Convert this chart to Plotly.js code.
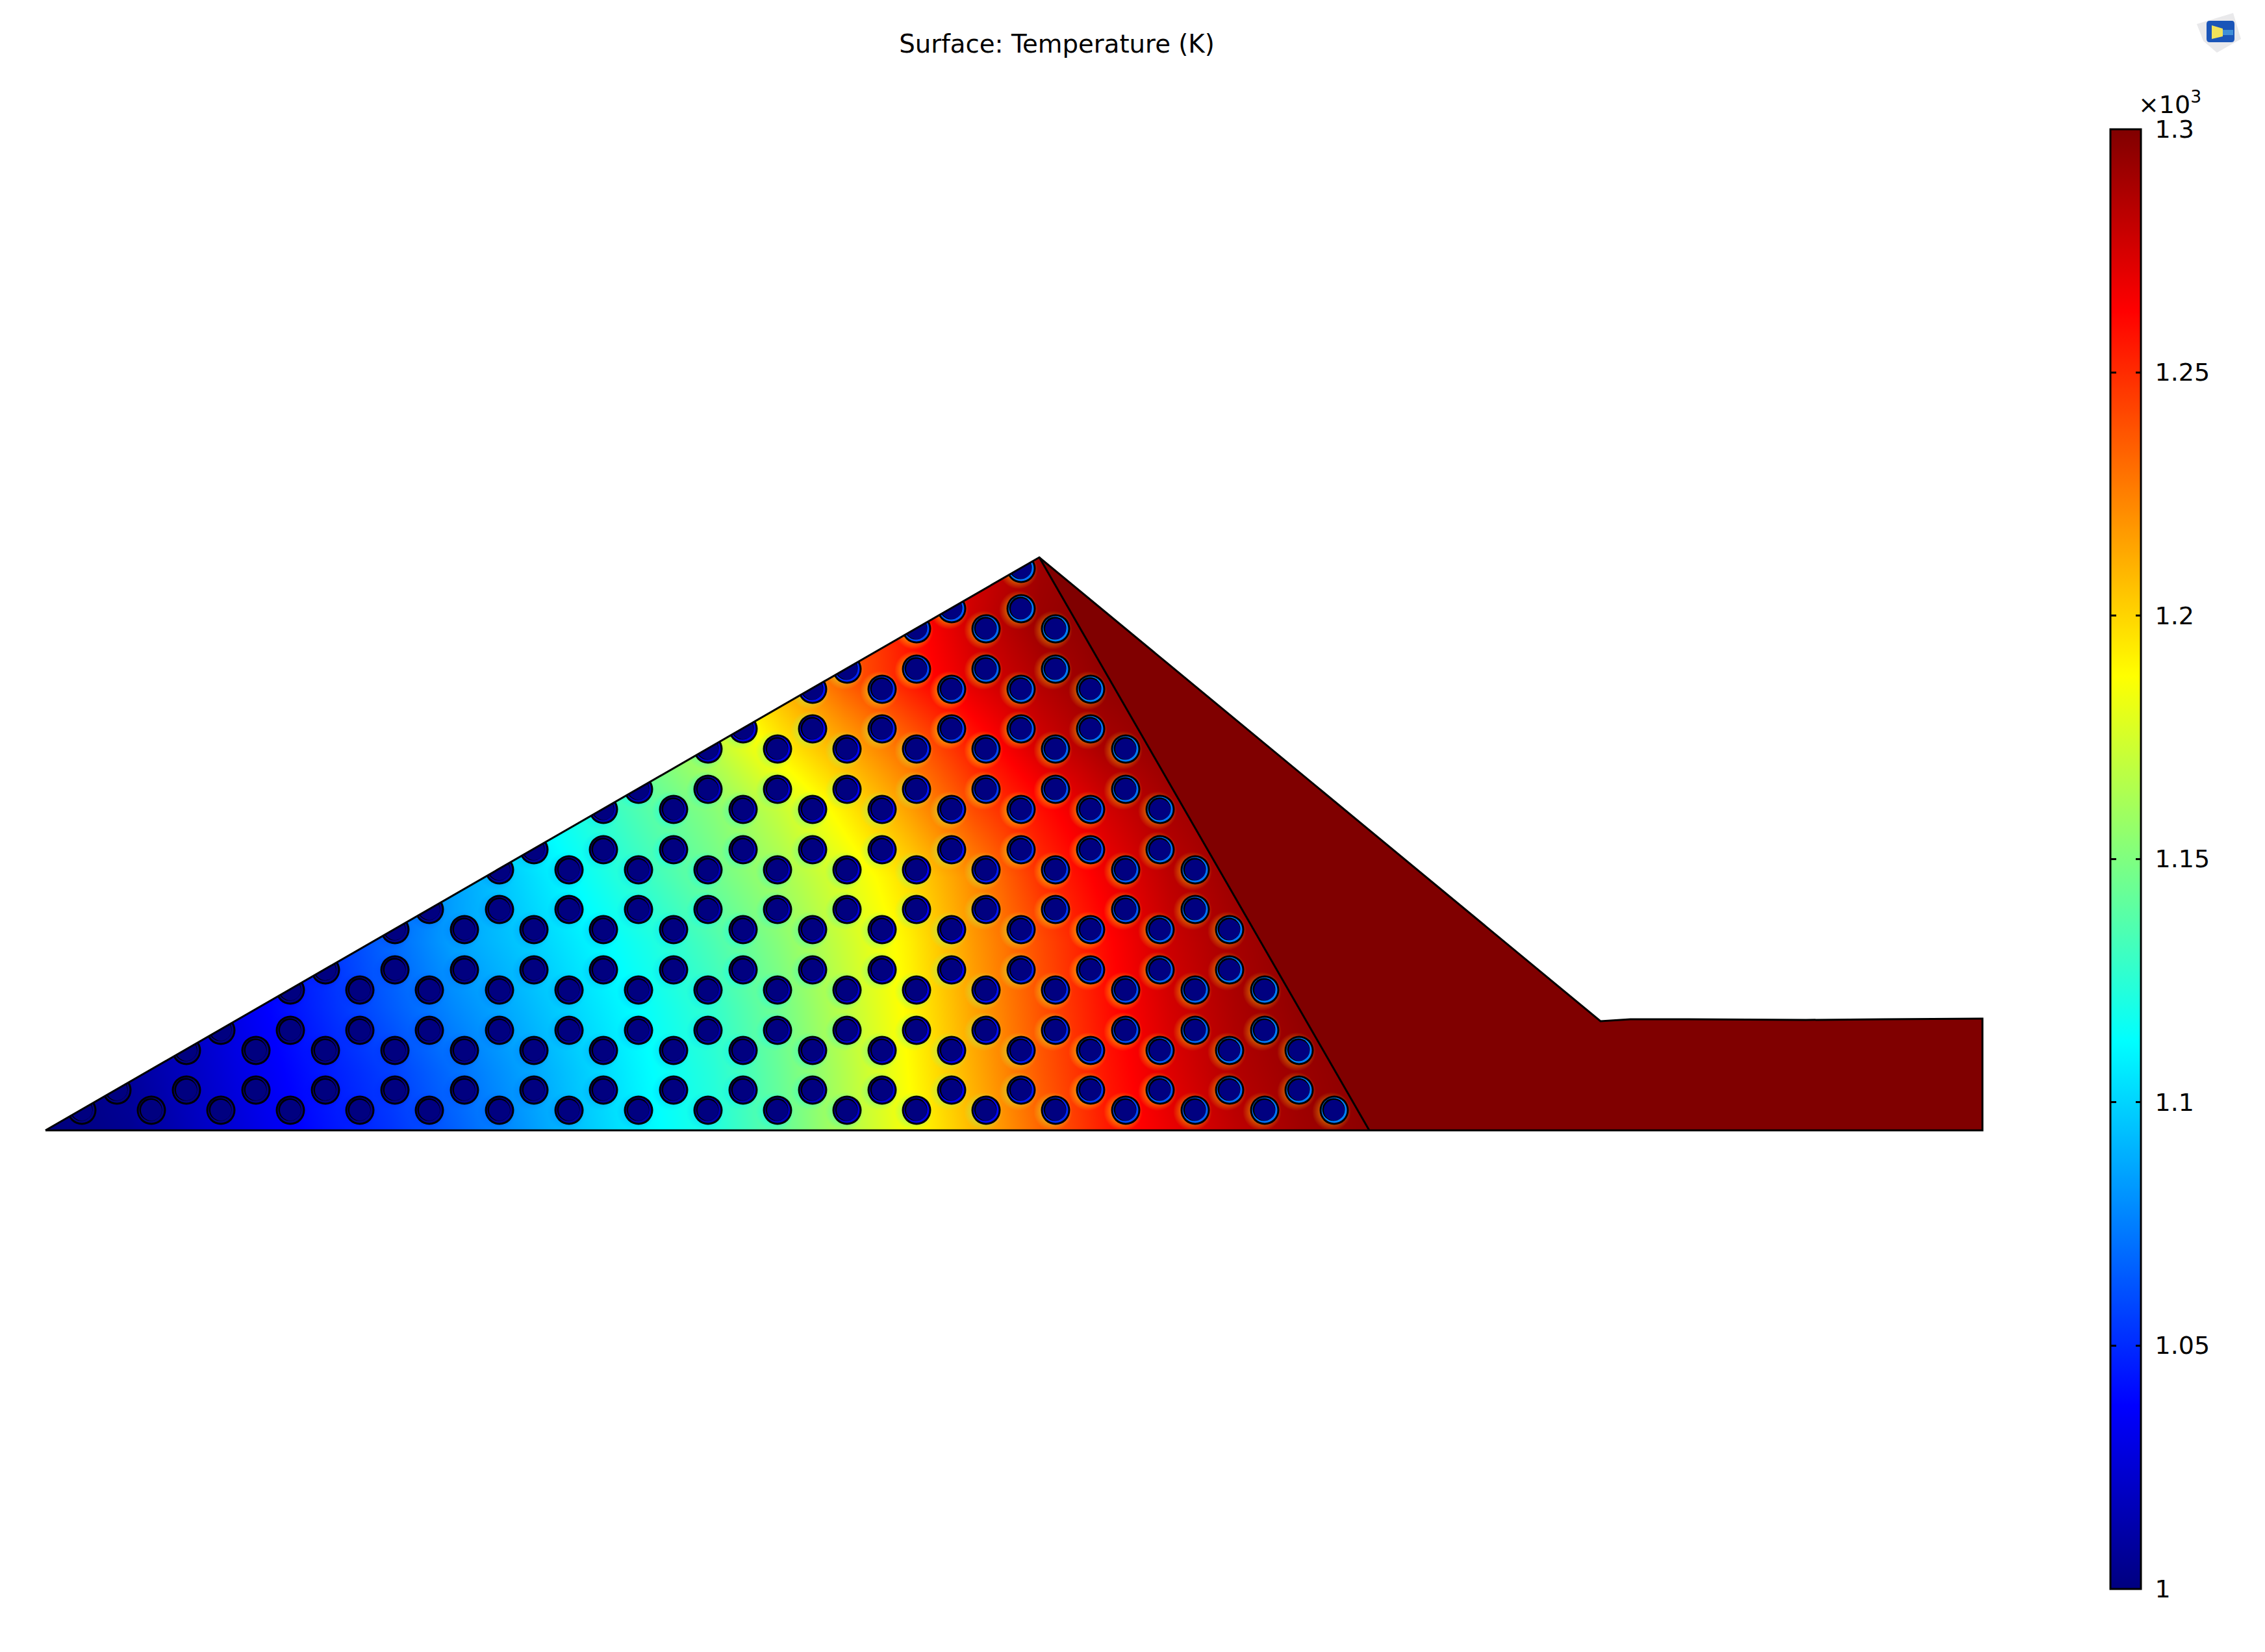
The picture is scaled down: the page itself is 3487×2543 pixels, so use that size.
<!DOCTYPE html>
<html>
<head>
<meta charset="utf-8">
<script src="https://cdn.plot.ly/plotly-3.0.1.min.js"></script>
<style>html,body{margin:0;padding:0;background:#fff}</style>
</head>
<body>
<div id="myDiv" style="width:3487px;height:2543px"></div>
<script>
// temperature (K), rows follow gridY, columns follow gridX
var gridX = [0,100,200,300,400,500,600,700,800,900,1000,1100,1200,1300,1400,1500,1600,1700,1800,1900,2000,2100,2200];
var gridY = [850,950,1050,1150,1250,1350,1450,1550,1650,1750];
var tempRow850  = [1200,1200,1200,1200,1200,1200,1200,1200,1200,1200,1200,1200,1210,1225,1250,1275,1290,1296,1298,1298,1298,1298,1298];
var tempRow950  = [1200,1200,1200,1200,1200,1200,1200,1200,1200,1200,1200,1200,1215,1235,1258,1278,1292,1297,1298,1298,1298,1298,1298];
var tempRow1050 = [1140,1140,1140,1140,1140,1140,1140,1140,1140,1150,1165,1185,1210,1235,1255,1272,1285,1295,1298,1298,1298,1298,1298];
var tempRow1150 = [1100,1100,1100,1100,1100,1100,1100,1110,1120,1135,1150,1168,1192,1212,1232,1255,1275,1288,1295,1298,1298,1298,1298];
var tempRow1250 = [1060,1060,1060,1060,1060,1070,1080,1095,1108,1122,1138,1152,1170,1192,1215,1240,1258,1275,1288,1295,1298,1298,1298];
var tempRow1350 = [1030,1030,1030,1030,1040,1050,1065,1085,1100,1115,1130,1145,1160,1178,1198,1222,1248,1266,1282,1292,1297,1298,1298];
var tempRow1450 = [1015,1015,1018,1026,1038,1052,1068,1085,1096,1108,1120,1135,1152,1172,1192,1218,1240,1260,1278,1289,1296,1298,1298];
var tempRow1550 = [1000,1000,1010,1022,1036,1050,1064,1078,1090,1103,1115,1128,1146,1168,1190,1215,1238,1258,1275,1287,1295,1298,1298];
var tempRow1650 = [1000,1000,1008,1020,1033,1045,1056,1070,1084,1098,1112,1124,1143,1165,1188,1212,1236,1256,1272,1285,1292,1297,1298];
var tempRow1750 = [1000,1000,1005,1018,1030,1042,1052,1065,1080,1096,1110,1122,1141,1164,1186,1208,1232,1254,1268,1281,1290,1296,1298];
var tempGrid = [tempRow850,tempRow950,tempRow1050,tempRow1150,tempRow1250,tempRow1350,tempRow1450,tempRow1550,tempRow1650,tempRow1750];

// cooling channel rows
var holeRowY = [1709,1678,1617,1586,1524,1493,1431,1400,1339,1308,1246,1215,1153,1122,1061,1030,968,937,875];
var holeRowX = [
	[126,233,340,447,554,661,769,876,983,1090,1197,1304,1411,1518,1625,1733,1840,1947,2054],
	[180,287,394,501,608,715,822,929,1037,1144,1251,1358,1465,1572,1679,1786,1893,2000],
	[287,394,501,608,715,822,929,1037,1144,1251,1358,1465,1572,1679,1786,1893,2000],
	[340,447,554,661,769,876,983,1090,1197,1304,1411,1518,1625,1733,1840,1947],
	[447,554,661,769,876,983,1090,1197,1304,1411,1518,1625,1733,1840,1947],
	[501,608,715,822,929,1037,1144,1251,1358,1465,1572,1679,1786,1893],
	[608,715,822,929,1037,1144,1251,1358,1465,1572,1679,1786,1893],
	[661,769,876,983,1090,1197,1304,1411,1518,1625,1733,1840],
	[769,876,983,1090,1197,1304,1411,1518,1625,1733,1840],
	[822,929,1037,1144,1251,1358,1465,1572,1679,1786],
	[929,1037,1144,1251,1358,1465,1572,1679,1786],
	[983,1090,1197,1304,1411,1518,1625,1733],
	[1090,1197,1304,1411,1518,1625,1733],
	[1144,1251,1358,1465,1572,1679],
	[1251,1358,1465,1572,1679],
	[1304,1411,1518,1625],
	[1411,1518,1625],
	[1465,1572],
	[1572]
];

// geometry
var outerX = [70,1600,2464,2510,2600,2780,2900,3052,3052,70];
var outerY = [1740,858,1572,1569,1569,1570,1569,1568,1740,1740];
var solidX = [1600,2464,2510,2600,2780,2900,3052,3052,2108,1600];
var solidY = [858,1572,1569,1569,1570,1569,1568,1740,1740,858];
var innerX = [1600,2108];
var innerY = [858,1740];
var maskX = [0,70,1600,1600,0,0,null,1600,2108,2300,2300,1600,null,0,2300,2300,0,0];
var maskY = [1740,1740,858,780,780,1740,null,858,1740,1740,780,780,null,1740,1740,1800,1800,1740];

// colour bar
var barVals = [1000,1050,1100,1150,1200,1250,1300];
var barText = ['1','1.05','1.1','1.15','1.2','1.25','1.3'];

var jet = [[0,'rgb(0,0,128)'],[0.125,'rgb(0,0,255)'],[0.375,'rgb(0,255,255)'],[0.625,'rgb(255,255,0)'],[0.875,'rgb(255,0,0)'],[1,'rgb(128,0,0)']];
var jetRGB = [[0,0,128],[0,0,255],[0,255,255],[255,255,0],[255,0,0],[128,0,0]];

function jetColor(t, alpha) {
	var v = Math.max(0, Math.min(1, (t - 1000) / 300));
	var i = 0;
	while (i < jet.length - 2 && v > jet[i + 1][0]) i++;
	var f = (v - jet[i][0]) / (jet[i + 1][0] - jet[i][0]);
	var c = jetRGB[i].map(function(a, k) { return Math.round(a + (jetRGB[i + 1][k] - a) * f); });
	return 'rgba(' + c.join(',') + ',' + alpha + ')';
}

// temperature of the solid next to a hole, only used to tint its rim and halo
function solidTemp(x, y) {
	var i = Math.min(gridX.length - 2, Math.floor(x / 100));
	var j = Math.max(0, Math.min(gridY.length - 2, Math.floor((y - 850) / 100)));
	var fx = (x - gridX[i]) / 100, fy = (y - gridY[j]) / 100;
	return (tempGrid[j][i] * (1 - fx) + tempGrid[j][i + 1] * fx) * (1 - fy) +
		(tempGrid[j + 1][i] * (1 - fx) + tempGrid[j + 1][i + 1] * fx) * fy;
}

var holeX = [], holeY = [], rimColor = [], haloIn = [], haloOut = [];
holeRowY.forEach(function(y, r) {
	holeRowX[r].forEach(function(x) {
		var t = solidTemp(x, y);
		var rise = t - 1000;
		var haloT = 1000 + rise * (0.9 - 0.2 * rise / 300);
		holeX.push(x);
		holeY.push(y);
		rimColor.push(jetColor(1000 + rise * rise / 300 * 0.26, 1));
		haloIn.push(jetColor(haloT, 1));
		haloOut.push(jetColor(haloT, 0));
	});
});

function holeLayer(size, color, dx, dy) {
	return {x: holeX.map(function(x) { return x + dx; }), y: holeY.map(function(y) { return y + dy; }),
		type: 'scatter', mode: 'markers', hoverinfo: 'skip', showlegend: false,
		marker: {size: size, color: color, line: {width: 0}}};
}

// see-through bar that only carries tick marks, the real bar can only tick one edge
function tickStrip(left, thick) {
	return {x: [-100, -100], y: [-100, -100], type: 'scatter', mode: 'markers', hoverinfo: 'skip', showlegend: false,
		marker: {size: 1, color: [1000, 1300], cmin: 1000, cmax: 1300, showscale: true,
			colorscale: [[0, 'rgba(0,0,0,0)'], [1, 'rgba(0,0,0,0)']],
			colorbar: {
				x: left / 3487, xanchor: 'left', xpad: 0, ypad: 0,
				y: 1 - 1322 / 2543, yanchor: 'middle',
				thickness: thick, thicknessmode: 'pixels',
				len: 2247, lenmode: 'pixels',
				outlinewidth: 0,
				ticks: 'inside', ticklen: 8, tickwidth: 3, tickcolor: '#000',
				tickmode: 'array', tickvals: barVals, showticklabels: false
			}}};
}

var halo = holeLayer(60, haloOut, -4, 2);
halo.marker.gradient = {type: 'radial', color: haloIn};

var data = [
	{x: gridX, y: gridY, z: tempGrid, type: 'heatmap', zsmooth: 'best', zmin: 1000, zmax: 1300, colorscale: jet,
		colorbar: {
			x: 3248.5 / 3487, xanchor: 'left', xpad: 0, ypad: 0,
			y: 1 - 1322 / 2543, yanchor: 'middle',
			thickness: 47, thicknessmode: 'pixels',
			len: 2247, lenmode: 'pixels',
			outlinewidth: 3, outlinecolor: '#000',
			ticks: 'outside', ticklen: 13, tickwidth: 1, tickcolor: 'rgba(0,0,0,0)',
			tickvals: barVals, ticktext: barText, tickmode: 'array',
			tickfont: {size: 38, color: '#000', family: 'DejaVu Sans'}
		}},
	tickStrip(3248.5, 9),
	tickStrip(3248.5, 47),
	halo,
	holeLayer(45, '#000', 0, 0),
	holeLayer(39, rimColor, 0, 0),
	holeLayer(35, '#000', -1, -1),
	holeLayer(32, 'rgb(0,0,128)', 0, 0),
	{x: maskX, y: maskY, type: 'scatter', mode: 'none', fill: 'toself', fillcolor: '#fff', hoverinfo: 'skip', showlegend: false},
	{x: solidX, y: solidY, type: 'scatter', mode: 'none', fill: 'toself', fillcolor: 'rgb(128,0,0)', hoverinfo: 'skip', showlegend: false},
	{x: outerX, y: outerY, type: 'scatter', mode: 'lines', line: {color: '#000', width: 3}, hoverinfo: 'skip', showlegend: false},
	{x: innerX, y: innerY, type: 'scatter', mode: 'lines', line: {color: '#000', width: 3}, hoverinfo: 'skip', showlegend: false}
];

var layout = {
	width: 3487,
	height: 2543,
	margin: {l: 0, r: 0, t: 0, b: 0},
	paper_bgcolor: '#fff',
	plot_bgcolor: '#fff',
	showlegend: false,
	title: {text: 'Surface: Temperature (K)', x: 1627 / 3487, xanchor: 'center', y: 1 - 67 / 2543, yanchor: 'middle',
		font: {size: 38.7, color: '#000', family: 'DejaVu Sans'}},
	xaxis: {range: [0, 3487], visible: false, fixedrange: true},
	yaxis: {range: [2543, 0], visible: false, fixedrange: true},
	annotations: [{text: '×10<sup>3</sup>', xref: 'x', yref: 'y', x: 3290, y: 158, xanchor: 'left', yanchor: 'middle', showarrow: false,
		font: {size: 38, color: '#000', family: 'DejaVu Sans'}}],
	// small view cube in the corner
	shapes: [
		{type: 'path', xref: 'x', yref: 'y', path: 'M3382,37 L3438,20 L3450,60 L3413,81 L3392,63 Z', fillcolor: '#e9e9eb', line: {width: 0}},
		{type: 'path', xref: 'x', yref: 'y', path: 'M3402,32 L3436,32 Q3440,32 3440,37 L3440,60 Q3440,65 3435,65 L3402,65 Q3397,65 3397,60 L3397,37 Q3397,32 3402,32 Z', fillcolor: '#1a55b8', line: {width: 0}},
		{type: 'path', xref: 'x', yref: 'y', path: 'M3405,39 L3422,44 L3422,56 L3405,60 Z', fillcolor: '#f0e25a', line: {width: 0}},
		{type: 'path', xref: 'x', yref: 'y', path: 'M3422,46 L3438,46 L3438,54 L3422,54 Z', fillcolor: '#3f8fd8', line: {width: 0}}
	]
};

Plotly.newPlot('myDiv', data, layout, {displayModeBar: false, staticPlot: true});
</script>
</body>
</html>
